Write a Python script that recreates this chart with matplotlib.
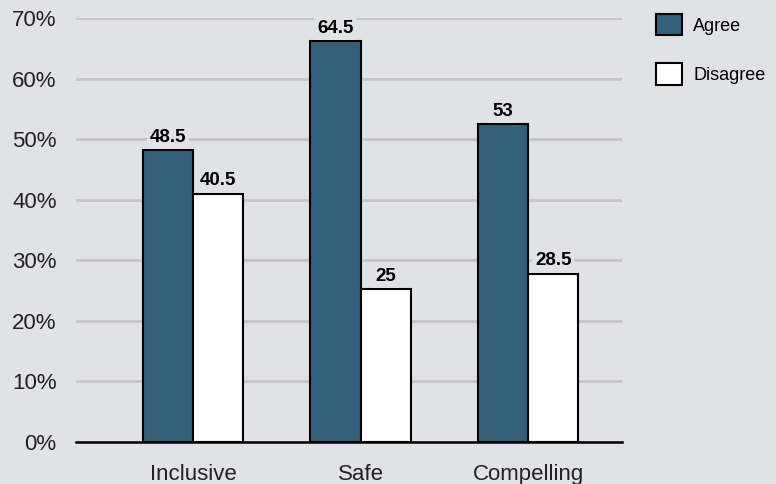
import numpy as np
import matplotlib.pyplot as plt

plt.rcParams["font.family"] = ["Liberation Sans", "DejaVu Sans"]

categories = ["Inclusive", "Safe", "Compelling"]
series = ["Agree", "Disagree"]
# bar heights as drawn in the picture (percent)
agree = [48.2, 66.2, 52.5]
disagree = [41.0, 25.2, 27.8]
# value labels as printed above the bars
agree_labels = ["48.5", "64.5", "53"]
disagree_labels = ["40.5", "25", "28.5"]
yticks = [0, 10, 20, 30, 40, 50, 60, 70]

bg = "#e1e2e6"
dark = "#336078"

fig = plt.figure(figsize=(7.76, 4.84), dpi=100, facecolor=bg)
ax = fig.add_axes([76/776, 1-442/484, 546/776, 424/484], facecolor=bg)

x = np.arange(len(categories))
w = 0.3
b1 = ax.bar(x - w/2, agree, w, color=dark, edgecolor="black", linewidth=1.5, zorder=3, label=series[0])
b2 = ax.bar(x + w/2, disagree, w, color="white", edgecolor="black", linewidth=1.5, zorder=3, label=series[1])

for bars, labs in [(b1, agree_labels), (b2, disagree_labels)]:
    for rect, lab in zip(bars, labs):
        ax.annotate(lab, (rect.get_x() + rect.get_width()/2, rect.get_height()),
                    xytext=(0, 3), textcoords="offset points", ha="center", va="bottom",
                    fontsize=13.5, fontweight="bold", zorder=4,
                    bbox=dict(boxstyle="square,pad=0.15", fc=bg, ec="none"))

ax.set_ylim(0, 70)
ax.set_xlim(-117/167.5, 2 + 94/167.5)
ax.set_yticks(yticks)
ax.set_yticklabels([f"{v}%" for v in yticks], fontsize=16, color="#222222")
ax.set_xticks(x)
ax.set_xticklabels(categories, fontsize=16, color="#222222")
ax.tick_params(length=0)
ax.tick_params(axis="y", pad=14)
ax.tick_params(axis="x", pad=16)
ax.yaxis.grid(True, color="#c4c4c6", linewidth=2, zorder=0)
ax.set_axisbelow(True)
for s in ["top", "right", "left"]:
    ax.spines[s].set_visible(False)
ax.spines["bottom"].set_linewidth(1.8)
ax.spines["bottom"].set_zorder(5)

leg = fig.legend(loc="upper left", bbox_to_anchor=(656/776, 1-14/484), frameon=False,
                 fontsize=13, handlelength=1.45, handleheight=1.45, handletextpad=0.6,
                 labelspacing=1.55, borderpad=0, borderaxespad=0)

fig.savefig("out.png", dpi=100, facecolor=bg)
